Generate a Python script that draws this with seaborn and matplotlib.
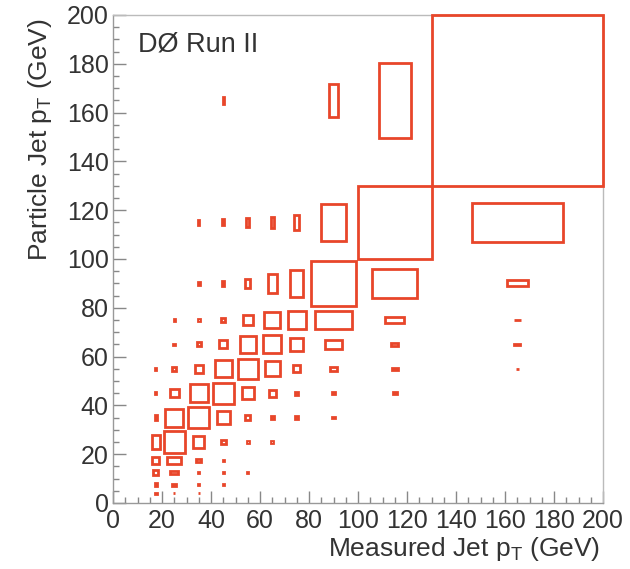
import matplotlib
matplotlib.use("Agg")
import matplotlib.pyplot as plt
from matplotlib.ticker import MultipleLocator
import pandas as pd
import seaborn as sns

# Bin edges of the response matrix (GeV)
x_edges = [15, 20, 30, 40, 50, 60, 70, 80, 100, 130, 200]
y_edges = [3, 5, 10, 15, 20, 30, 40, 50, 60, 70, 80, 100, 130, 200]

# Normalised bin content: one row per particle-jet pT bin (bottom to top),
# one entry per measured-jet pT bin (left to right)
content = [
    [0.20, 0.08, 0.08, 0.00, 0.00, 0.00, 0.00, 0.00, 0.00, 0.00],
    [0.20, 0.16, 0.06, 0.06, 0.00, 0.00, 0.00, 0.00, 0.00, 0.00],
    [0.40, 0.31, 0.05, 0.05, 0.06, 0.00, 0.00, 0.00, 0.00, 0.00],
    [0.57, 0.56, 0.20, 0.06, 0.00, 0.00, 0.00, 0.00, 0.00, 0.00],
    [0.60, 0.87, 0.46, 0.20, 0.08, 0.08, 0.00, 0.00, 0.00, 0.00],
    [0.22, 0.73, 0.87, 0.52, 0.20, 0.12, 0.12, 0.06, 0.00, 0.00],
    [0.08, 0.35, 0.72, 0.86, 0.50, 0.28, 0.12, 0.08, 0.06, 0.00],
    [0.08, 0.15, 0.33, 0.70, 0.80, 0.60, 0.30, 0.16, 0.08, 0.02],
    [0.00, 0.07, 0.16, 0.33, 0.67, 0.73, 0.55, 0.35, 0.10, 0.035],
    [0.00, 0.05, 0.07, 0.16, 0.42, 0.67, 0.72, 0.74, 0.26, 0.04],
    [0.00, 0.00, 0.07, 0.10, 0.20, 0.38, 0.55, 0.93, 0.61, 0.12],
    [0.00, 0.00, 0.06, 0.08, 0.13, 0.14, 0.20, 0.51, 1.00, 0.53],
    [0.00, 0.00, 0.00, 0.045, 0.00, 0.00, 0.00, 0.19, 0.44, 1.00],
]

x_label = "Measured Jet p$_{T}$ (GeV)"
y_label = "Particle Jet p$_{T}$ (GeV)"
tag = "DØ Run II"

BOX = "#e8462a"
TEXT = "#333333"
FONT = ["Liberation Sans", "DejaVu Sans"]

sns.set_theme(style="ticks")
plt.rcParams.update({
    "font.family": FONT,
    "mathtext.fontset": "custom",
    "mathtext.rm": "Liberation Sans",
    "mathtext.default": "regular",
    "axes.edgecolor": "#999999",
    "xtick.color": "#888888",
    "ytick.color": "#888888",
    "xtick.labelcolor": TEXT,
    "ytick.labelcolor": TEXT,
})

# one record per filled cell: box centred in the bin, scaled by its content
records = []
for j in range(len(y_edges) - 1):
    for i in range(len(x_edges) - 1):
        c = content[j][i]
        if c <= 0:
            continue
        x0, x1 = x_edges[i], x_edges[i + 1]
        y0, y1 = y_edges[j], y_edges[j + 1]
        records.append({
            "xc": 0.5 * (x0 + x1),
            "yc": 0.5 * (y0 + y1),
            "w": c * (x1 - x0),
            "h": c * (y1 - y0),
        })
cells = pd.DataFrame(records)

fig = plt.figure(figsize=(6.3, 5.69), dpi=100)
ax = fig.add_axes([113 / 630, 1 - 503 / 569, 490 / 630, 488 / 569])

ax.bar(cells["xc"], cells["h"], width=cells["w"],
       bottom=cells["yc"] - cells["h"] / 2, align="center",
       fill=False, edgecolor=BOX, linewidth=2.0, clip_on=False, zorder=3)

ax.set_xlim(0, 200)
ax.set_ylim(0, 200)
ax.xaxis.set_major_locator(MultipleLocator(20))
ax.xaxis.set_minor_locator(MultipleLocator(5))
ax.yaxis.set_major_locator(MultipleLocator(20))
ax.yaxis.set_minor_locator(MultipleLocator(5))
ax.tick_params(which="both", direction="in", top=False, right=False,
               labelsize=18)
ax.tick_params(which="major", length=9, width=1)
ax.tick_params(which="minor", length=4.5, width=1)
ax.tick_params(axis="x", pad=4)
ax.tick_params(axis="y", pad=3)

for side in ("top", "right"):
    ax.spines[side].set_color("#bbbbbb")
for spine in ax.spines.values():
    spine.set_linewidth(1.0)

ax.set_xlabel(x_label, fontsize=19, color=TEXT, ha="right", va="center")
ax.xaxis.set_label_coords(0.995, -0.094)
ax.set_ylabel(y_label, fontsize=19, color=TEXT, ha="center", va="top",
              rotation=90, rotation_mode="default")
ax.yaxis.set_label_coords(-0.149, 0.994)

ax.text(0.051, 0.939, tag, transform=ax.transAxes, fontsize=19.5,
        color=TEXT, ha="left", va="center")

fig.savefig("out.png", dpi=100)
